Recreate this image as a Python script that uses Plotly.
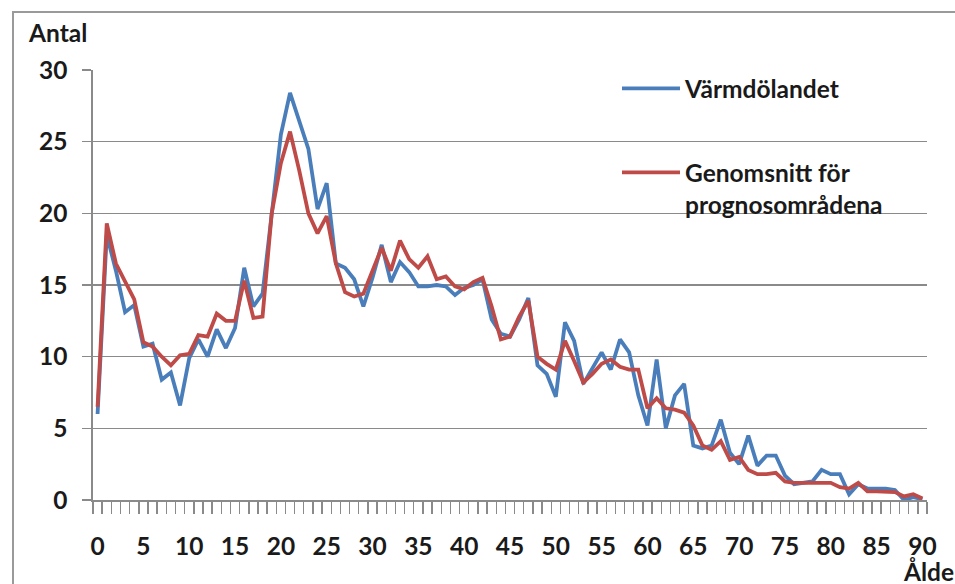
import plotly.graph_objects as go

ages = list(range(0, 91))

varmdolandet = [
    6.0, 18.5, 16.0, 13.1, 13.6, 10.7, 10.9, 8.4, 8.9, 6.6,
    9.9, 11.2, 10.0, 11.9, 10.6, 12.0, 16.2, 13.5, 14.4, 20.2,
    25.5, 28.4, 26.5, 24.5, 20.3, 22.1, 16.5, 16.2, 15.4, 13.5,
    15.5, 17.8, 15.2, 16.6, 15.9, 14.9, 14.9, 15.0, 14.9, 14.3,
    14.8, 15.0, 15.4, 12.6, 11.6, 11.4, 12.6, 14.1, 9.4, 8.8,
    7.2, 12.4, 11.1, 8.1, 9.2, 10.3, 9.1, 11.2, 10.3, 7.3,
    5.2, 9.8, 5.0, 7.3, 8.1, 3.8, 3.6, 3.8, 5.6, 3.3,
    2.5, 4.5, 2.4, 3.1, 3.1, 1.7, 1.1, 1.2, 1.3, 2.1,
    1.8, 1.8, 0.4, 1.1, 0.8, 0.8, 0.8, 0.7, 0.0, 0.2,
    0.05,
]

genomsnitt = [
    6.5, 19.3, 16.5, 15.2, 14.0, 11.0, 10.7, 10.0, 9.4, 10.1,
    10.2, 11.5, 11.4, 13.0, 12.5, 12.5, 15.3, 12.7, 12.8, 20.0,
    23.5, 25.7, 23.0, 20.0, 18.6, 19.8, 16.5, 14.5, 14.2, 14.4,
    16.0, 17.6, 16.0, 18.1, 16.8, 16.2, 17.0, 15.4, 15.6, 14.9,
    14.7, 15.2, 15.5, 13.5, 11.2, 11.4, 12.8, 13.9, 10.0, 9.5,
    9.1, 11.1, 9.7, 8.2, 8.8, 9.5, 9.8, 9.3, 9.1, 9.1,
    6.4, 7.1, 6.4, 6.3, 6.1, 5.2, 3.8, 3.5, 4.1, 2.8,
    3.0, 2.1, 1.8, 1.8, 1.9, 1.3, 1.2, 1.2, 1.2, 1.2,
    1.2, 0.9, 0.8, 1.2, 0.6, 0.6, 0.6, 0.55, 0.25, 0.4,
    0.1,
]

x_labels = list(range(0, 91, 5))
y_ticks = [0, 5, 10, 15, 20, 25, 30]

series_names = ["Värmdölandet", "Genomsnitt för<br>prognosområdena"]
series_colors = ["#4A7EBB", "#BE4B48"]

FONT = "Lato"
TXT = "#1a1a1a"
GRID = "#8a8a8a"
FS = 24.5

W, H = 955, 584
L, R, T, B = 93, 28, 70, 84
pw, ph = W - L - R, H - T - B


def px_x(p):
    return (p - L) / pw


def px_y(p):
    return (H - B - p) / ph


fig = go.Figure()
for name, vals, col, grp in zip(series_names, [varmdolandet, genomsnitt], series_colors, ["a", "b"]):
    fig.add_trace(go.Scatter(
        x=ages, y=vals, mode="lines", name=name, legendgroup=grp,
        line=dict(color=col, width=3.8), hoverinfo="skip",
    ))

# invisible trace to carry the category-boundary tick axis
fig.add_trace(go.Scatter(x=[-0.5, 90.5], y=[None, None], xaxis="x2", showlegend=False,
                         hoverinfo="skip", mode="lines"))

bold = dict(family=FONT, size=FS, color=TXT, weight="bold")

fig.update_layout(
    width=W, height=H,
    margin=dict(l=L, r=R, t=T, b=B),
    paper_bgcolor="white", plot_bgcolor="white",
    font=dict(family=FONT, color=TXT, size=FS),
    showlegend=True,
    legend=dict(
        x=px_x(617), y=px_y(66), xanchor="left", yanchor="top",
        bgcolor="rgba(0,0,0,0)", borderwidth=0,
        font=bold,
        tracegroupgap=49, valign="top", itemwidth=58,
    ),
    xaxis=dict(
        range=[-0.5, 90.5], tickmode="array", tickvals=x_labels,
        ticktext=[str(v) for v in x_labels],
        ticks="outside", ticklen=25, tickcolor="rgba(0,0,0,0)",
        showgrid=False, zeroline=False, showline=False,
        tickfont=bold, fixedrange=True,
    ),
    xaxis2=dict(
        range=[-0.5, 90.5], overlaying="x", anchor="y", side="bottom",
        tickmode="linear", tick0=-0.5, dtick=1,
        ticks="outside", ticklen=12, tickwidth=1.4, tickcolor=GRID,
        showticklabels=False, showgrid=False, zeroline=False,
        showline=True, linecolor=GRID, linewidth=1.6,
    ),
    yaxis=dict(
        range=[0, 30], tickmode="array", tickvals=y_ticks,
        ticks="outside", ticklen=9, tickwidth=1.4, tickcolor=GRID,
        ticklabelstandoff=10,
        showgrid=True, gridcolor=GRID, gridwidth=1.4,
        zeroline=False, showline=True, linecolor=GRID, linewidth=1.6,
        tickfont=bold, fixedrange=True,
    ),
    annotations=[
        dict(text="Antal", xref="paper", yref="paper", x=px_x(26), y=px_y(33),
             xanchor="left", yanchor="middle", showarrow=False, font=bold),
        dict(text="Ålder", xref="paper", yref="paper", x=px_x(901), y=px_y(571),
             xanchor="left", yanchor="middle", showarrow=False, font=bold),
    ],
    shapes=[
        dict(type="rect", xref="paper", yref="paper",
             x0=px_x(13), x1=px_x(1000), y0=px_y(640), y1=px_y(12),
             line=dict(color="#9a9a9a", width=2), fillcolor="rgba(0,0,0,0)", layer="below"),
    ],
)

fig.write_html(
    "out.html",
    config={"displayModeBar": False, "staticPlot": True},
    post_script="document.body.style.margin='0';document.body.style.overflow='hidden';",
)
